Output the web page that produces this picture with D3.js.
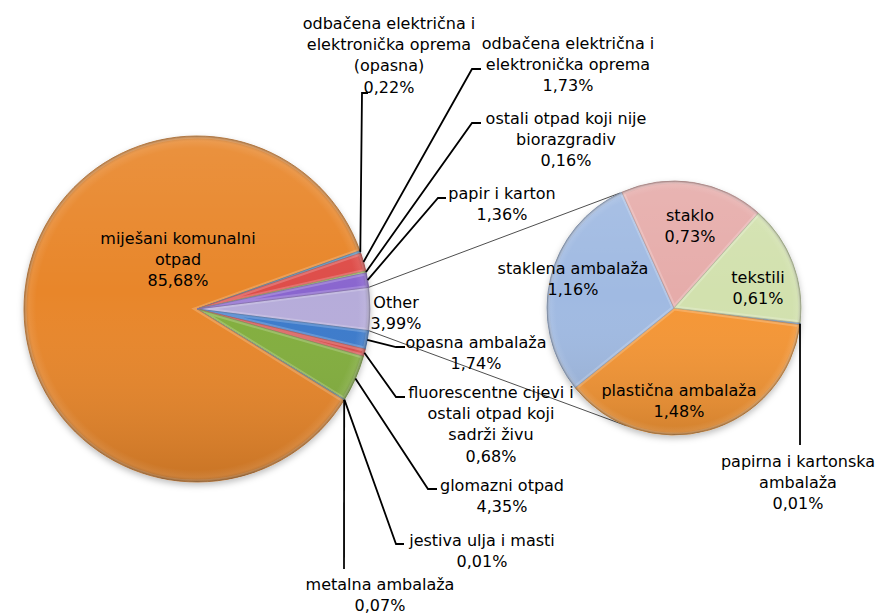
<!DOCTYPE html>
<html>
<head>
<meta charset="utf-8">
<script src="https://cdn.jsdelivr.net/npm/d3@7"></script>
<style>
html,body{margin:0;padding:0;background:#fff;}
svg{display:block;font-family:"DejaVu Sans",Verdana,sans-serif;}
</style>
</head>
<body>
<svg id="chart" width="878" height="616"></svg>
<script>
// ---------------- DATA ----------------
const otherName = "Other";
const mainCategories = [
  "opasna ambalaža",
  "fluorescentne cijevi i ostali otpad koji sadrži živu",
  "glomazni otpad",
  "jestiva ulja i masti",
  "metalna ambalaža",
  "miješani komunalni otpad",
  "odbačena električna i elektronička oprema (opasna)",
  "odbačena električna i elektronička oprema",
  "ostali otpad koji nije biorazgradiv",
  "papir i karton"
];
const mainValues = [1.74, 0.68, 4.35, 0.01, 0.07, 85.68, 0.22, 1.73, 0.16, 1.36];

const otherCategories = [
  "papirna i kartonska ambalaža",
  "plastična ambalaža",
  "staklena ambalaža",
  "staklo",
  "tekstili"
];
const otherValues = [0.01, 1.48, 1.16, 0.73, 0.61];

// ---------------- STYLE / LAYOUT ----------------
const mainColors = {
  "Other": "#b6acda",
  "opasna ambalaža": "#3b7acb",
  "fluorescentne cijevi i ostali otpad koji sadrži živu": "#d84c48",
  "glomazni otpad": "#82ae3e",
  "jestiva ulja i masti": "#8064a2",
  "metalna ambalaža": "#4bacc6",
  "miješani komunalni otpad": "#e8862a",
  "odbačena električna i elektronička oprema (opasna)": "#4a86b8",
  "odbačena električna i elektronička oprema": "#de4e4a",
  "ostali otpad koji nije biorazgradiv": "#98b557",
  "papir i karton": "#8a66cf"
};
const otherColors = {
  "papirna i kartonska ambalaža": "#5b8ac8",
  "plastična ambalaža": "#f59634",
  "staklena ambalaža": "#a0bae2",
  "staklo": "#e6acaa",
  "tekstili": "#d2e1ae"
};

const MAIN = {cx: 197, cy: 309, r: 173};
const SEC = {cx: 674, cy: 308, r: 127, start: 6.7 * Math.PI / 180 + Math.PI / 2};
const CONNECT_ANGLES = [245 * Math.PI / 180, 112 * Math.PI / 180]; // screen angles on secondary pie

const FONT = 16, LINE_H = 21.3;

// label layout: words per line, centre x, first line centre y, leader elbow/end
const mainLabelLayout = {
  "Other": {wrap: [1], x: 396, y: 302},
  "opasna ambalaža": {wrap: [2], x: 476, y: 342, leader: [[396, 347], [405, 347]]},
  "fluorescentne cijevi i ostali otpad koji sadrži živu": {wrap: [3, 3, 2], x: 491, y: 392, leader: [[396, 397], [405, 397]]},
  "glomazni otpad": {wrap: [2], x: 502, y: 485, leader: [[428, 489], [437, 489]]},
  "jestiva ulja i masti": {wrap: [4], x: 482, y: 540, leader: [[396, 544], [404, 544]]},
  "metalna ambalaža": {wrap: [2], x: 380, y: 584, leader: [[344, 569]]},
  "miješani komunalni otpad": {wrap: [2, 1], x: 178, y: 238},
  "odbačena električna i elektronička oprema (opasna)": {wrap: [3, 2, 1], x: 389, y: 23, leader: [[362, 93], [368, 93]]},
  "odbačena električna i elektronička oprema": {wrap: [3, 2], x: 568, y: 43, leader: [[472, 69], [481, 69]]},
  "ostali otpad koji nije biorazgradiv": {wrap: [4, 1], x: 566, y: 118, leader: [[472, 123], [481, 123]]},
  "papir i karton": {wrap: [3], x: 502, y: 193, leader: [[438, 198], [446, 198]]}
};
const otherLabelLayout = {
  "papirna i kartonska ambalaža": {wrap: [3, 1], x: 798, y: 461, leader: [[null, 445]]},
  "plastična ambalaža": {wrap: [2], x: 679, y: 390},
  "staklena ambalaža": {wrap: [2], x: 573, y: 268},
  "staklo": {wrap: [1], x: 690, y: 215},
  "tekstili": {wrap: [1], x: 758, y: 277}
};

// ---------------- DRAW ----------------
const fmt = d3.formatLocale({decimal: ",", thousands: ".", grouping: [3], currency: ["", ""]}).format(".2f");
const pct = v => fmt(v) + "%";

const svg = d3.select("#chart");
const defs = svg.append("defs");

const shadow = defs.append("filter").attr("id", "shadow").attr("x", "-20%").attr("y", "-20%").attr("width", "140%").attr("height", "140%");
shadow.append("feDropShadow").attr("dx", 0).attr("dy", 3).attr("stdDeviation", 3).attr("flood-color", "#000").attr("flood-opacity", 0.25);

const shade = defs.append("linearGradient").attr("id", "shade").attr("x1", 0).attr("y1", 0).attr("x2", 0).attr("y2", 1);
shade.append("stop").attr("offset", "0%").attr("stop-color", "#fff").attr("stop-opacity", 0.10);
shade.append("stop").attr("offset", "45%").attr("stop-color", "#fff").attr("stop-opacity", 0);
shade.append("stop").attr("offset", "100%").attr("stop-color", "#000").attr("stop-opacity", 0.14);

const rim = defs.append("radialGradient").attr("id", "rim");
rim.append("stop").attr("offset", "93%").attr("stop-color", "#fff").attr("stop-opacity", 0);
rim.append("stop").attr("offset", "97%").attr("stop-color", "#fff").attr("stop-opacity", 0.08);
rim.append("stop").attr("offset", "100%").attr("stop-color", "#000").attr("stop-opacity", 0.25);

const otherSum = d3.sum(otherValues);
const mainData = [{name: otherName, value: otherSum}].concat(mainCategories.map((c, i) => ({name: c, value: mainValues[i]})));
const mainTotal = d3.sum(mainData, d => d.value);
const otherAngle = 2 * Math.PI * otherSum / mainTotal;

const mainPie = d3.pie().sort(null).value(d => d.value)
  .startAngle(Math.PI / 2 - otherAngle / 2).endAngle(Math.PI / 2 - otherAngle / 2 + 2 * Math.PI);
const secPie = d3.pie().sort(null).value(d => d.value)
  .startAngle(SEC.start).endAngle(SEC.start + 2 * Math.PI);

const secData = otherCategories.map((c, i) => ({name: c, value: otherValues[i]}));

function drawPie(cfg, arcs, colors, idp) {
  const g = svg.append("g").attr("transform", `translate(${cfg.cx},${cfg.cy})`);
  const arc = d3.arc().innerRadius(0).outerRadius(cfg.r);
  const base = g.append("g").attr("filter", "url(#shadow)");
  base.selectAll("path").data(arcs).join("path")
    .attr("d", arc)
    .attr("fill", d => colors[d.data.name])
    .attr("stroke", d => d3.color(colors[d.data.name]).darker(0.8))
    .attr("stroke-width", 0.8)
    .attr("stroke-linejoin", "round");
  arcs.forEach((d, i) => {
    const id = idp + i;
    defs.append("clipPath").attr("id", id).append("path").attr("d", arc(d));
    g.append("path").attr("d", arc(d)).attr("clip-path", `url(#${id})`)
      .attr("fill", "none").attr("stroke", "#fff").attr("stroke-opacity", 0.2).attr("stroke-width", 5);
  });
  g.append("circle").attr("r", cfg.r).attr("fill", "url(#shade)").attr("pointer-events", "none");
  g.append("circle").attr("r", cfg.r).attr("fill", "url(#rim)").attr("pointer-events", "none");
  return {g, arc};
}

const mainArcs = mainPie(mainData);
const secArcs = secPie(secData);

// connector lines between pies
const otherArc = mainArcs[0];
const mainPts = [otherArc.startAngle, otherArc.endAngle].map(a => [MAIN.cx + MAIN.r * Math.sin(a), MAIN.cy - MAIN.r * Math.cos(a)]);
const secPts = CONNECT_ANGLES.map(a => [SEC.cx + SEC.r * Math.cos(a), SEC.cy + SEC.r * Math.sin(a)]);
const connG = svg.append("g");
mainPts.forEach((p, i) => {
  connG.append("line").attr("x1", p[0]).attr("y1", p[1]).attr("x2", secPts[i][0]).attr("y2", secPts[i][1])
    .attr("stroke", "#3a3a3a").attr("stroke-width", 0.9);
});

drawPie(MAIN, mainArcs, mainColors, "mc");
drawPie(SEC, secArcs, otherColors, "sc");

// labels
function edgePoint(cfg, d) {
  const a = (d.startAngle + d.endAngle) / 2;
  return [cfg.cx + cfg.r * Math.sin(a), cfg.cy - cfg.r * Math.cos(a)];
}
function splitWords(name, wrap) {
  const words = name.split(" ");
  const lines = []; let k = 0;
  wrap.forEach(n => { lines.push(words.slice(k, k + n).join(" ")); k += n; });
  if (k < words.length) lines[lines.length - 1] += " " + words.slice(k).join(" ");
  return lines;
}
const labelG = svg.append("g");
const leaderG = svg.append("g");
function drawLabels(cfg, arcs, layout) {
  arcs.forEach(d => {
    const L = layout[d.data.name];
    if (!L) return;
    const lines = splitWords(d.data.name, L.wrap).concat([pct(d.data.value)]);
    const t = labelG.append("text").attr("text-anchor", "middle").attr("font-size", FONT).attr("fill", "#000");
    lines.forEach((s, i) => {
      t.append("tspan").attr("x", L.x).attr("y", L.y + i * LINE_H).attr("dy", "0.36em").text(s);
    });
    if (L.leader) {
      const p0 = edgePoint(cfg, d);
      const pts = [p0].concat(L.leader.map(q => [q[0] == null ? p0[0] : q[0], q[1]]));
      leaderG.append("path").attr("d", d3.line()(pts))
        .attr("fill", "none").attr("stroke", "#000").attr("stroke-width", 1.8).attr("stroke-linejoin", "miter");
    }
  });
}
drawLabels(MAIN, mainArcs, mainLabelLayout);
drawLabels(SEC, secArcs, otherLabelLayout);
</script>
</body>
</html>
